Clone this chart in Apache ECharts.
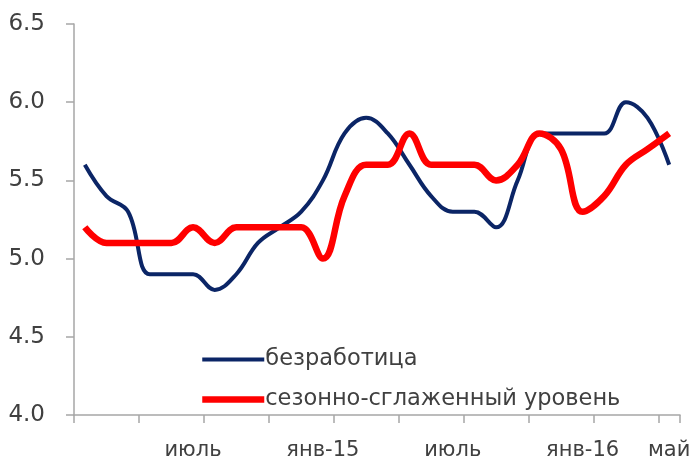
<!DOCTYPE html>
<html>
<head>
<meta charset="utf-8">
<script src="https://cdn.jsdelivr.net/npm/echarts@6/dist/echarts.min.js"></script>
<style>
html,body{margin:0;padding:0;background:#fff;}
#chart{width:693px;height:460px;}
</style>
</head>
<body>
<div id="chart"></div>
<script>
// Months Feb 2014 .. May 2016
const categories = ["фев-14","мар","апр","май","июнь","июль","авг","сен","окт","ноя","дек","янв-15",
  "фев","мар","апр","май","июнь","июль","авг","сен","окт","ноя","дек","янв-16","фев","мар","апр","май"];
const shownLabels = [5, 11, 17, 23, 27];
const unemployment = [5.6,5.4,5.3,4.9,4.9,4.9,4.8,4.9,5.1,5.2,5.3,5.5,5.8,5.9,5.8,5.6,5.4,5.3,5.3,5.2,5.5,5.8,5.8,5.8,5.8,6.0,5.9,5.6];
const seasonal = [5.2,5.1,5.1,5.1,5.1,5.2,5.1,5.2,5.2,5.2,5.2,5.0,5.4,5.6,5.6,5.8,5.6,5.6,5.6,5.5,5.6,5.8,5.7,5.3,5.4,5.6,5.7,5.8];
const seriesNames = ["безработица", "сезонно-сглаженный уровень"];
const yTicks = {min: 4.0, max: 6.5, step: 0.5};

const font = "DejaVu Sans";
const chart = echarts.init(document.getElementById('chart'));
chart.setOption({
  animation: false,
  backgroundColor: '#fff',
  grid: {left: 74, right: 13, top: 24, bottom: 45, containLabel: false, outerBoundsMode: 'none'},
  legend: {
    orient: 'vertical',
    left: 194, top: 343,
    itemWidth: 62, itemHeight: 4, itemGap: 17,
    lineStyle: {width: 'inherit'},
    textStyle: {fontFamily: font, fontSize: 22.5, color: '#404040', padding: [0,0,0,-4]},
    data: seriesNames
  },
  xAxis: {
    type: 'category',
    data: categories,
    boundaryGap: true,
    axisLine: {lineStyle: {color: '#a6a6a6', width: 1.5}},
    axisTick: {show: true, interval: 2, length: 8, lineStyle: {color: '#a6a6a6', width: 1.5}},
    axisLabel: {
      interval: (i) => shownLabels.includes(i),
      margin: 25,
      fontFamily: font, fontSize: 21, color: '#404040'
    },
    splitLine: {show: false}
  },
  yAxis: {
    type: 'value',
    min: yTicks.min, max: yTicks.max, interval: yTicks.step,
    axisLine: {show: true, lineStyle: {color: '#a6a6a6', width: 1.5}},
    axisTick: {show: true, length: 8, lineStyle: {color: '#a6a6a6', width: 1.5}},
    axisLabel: {formatter: (v) => v.toFixed(1), margin: 29, fontFamily: font, fontSize: 23, color: '#404040'},
    splitLine: {show: false}
  },
  series: [
    {name: seriesNames[0], type: 'line', data: unemployment, smooth: 0.4, symbol: 'none',
      lineStyle: {color: '#0b2566', width: 4}, itemStyle: {color: '#0b2566'}},
    {name: seriesNames[1], type: 'line', data: seasonal, smooth: 0.4, symbol: 'none',
      lineStyle: {color: '#ff0000', width: 6.5}, itemStyle: {color: '#ff0000'}}
  ]
});
</script>
</body>
</html>
